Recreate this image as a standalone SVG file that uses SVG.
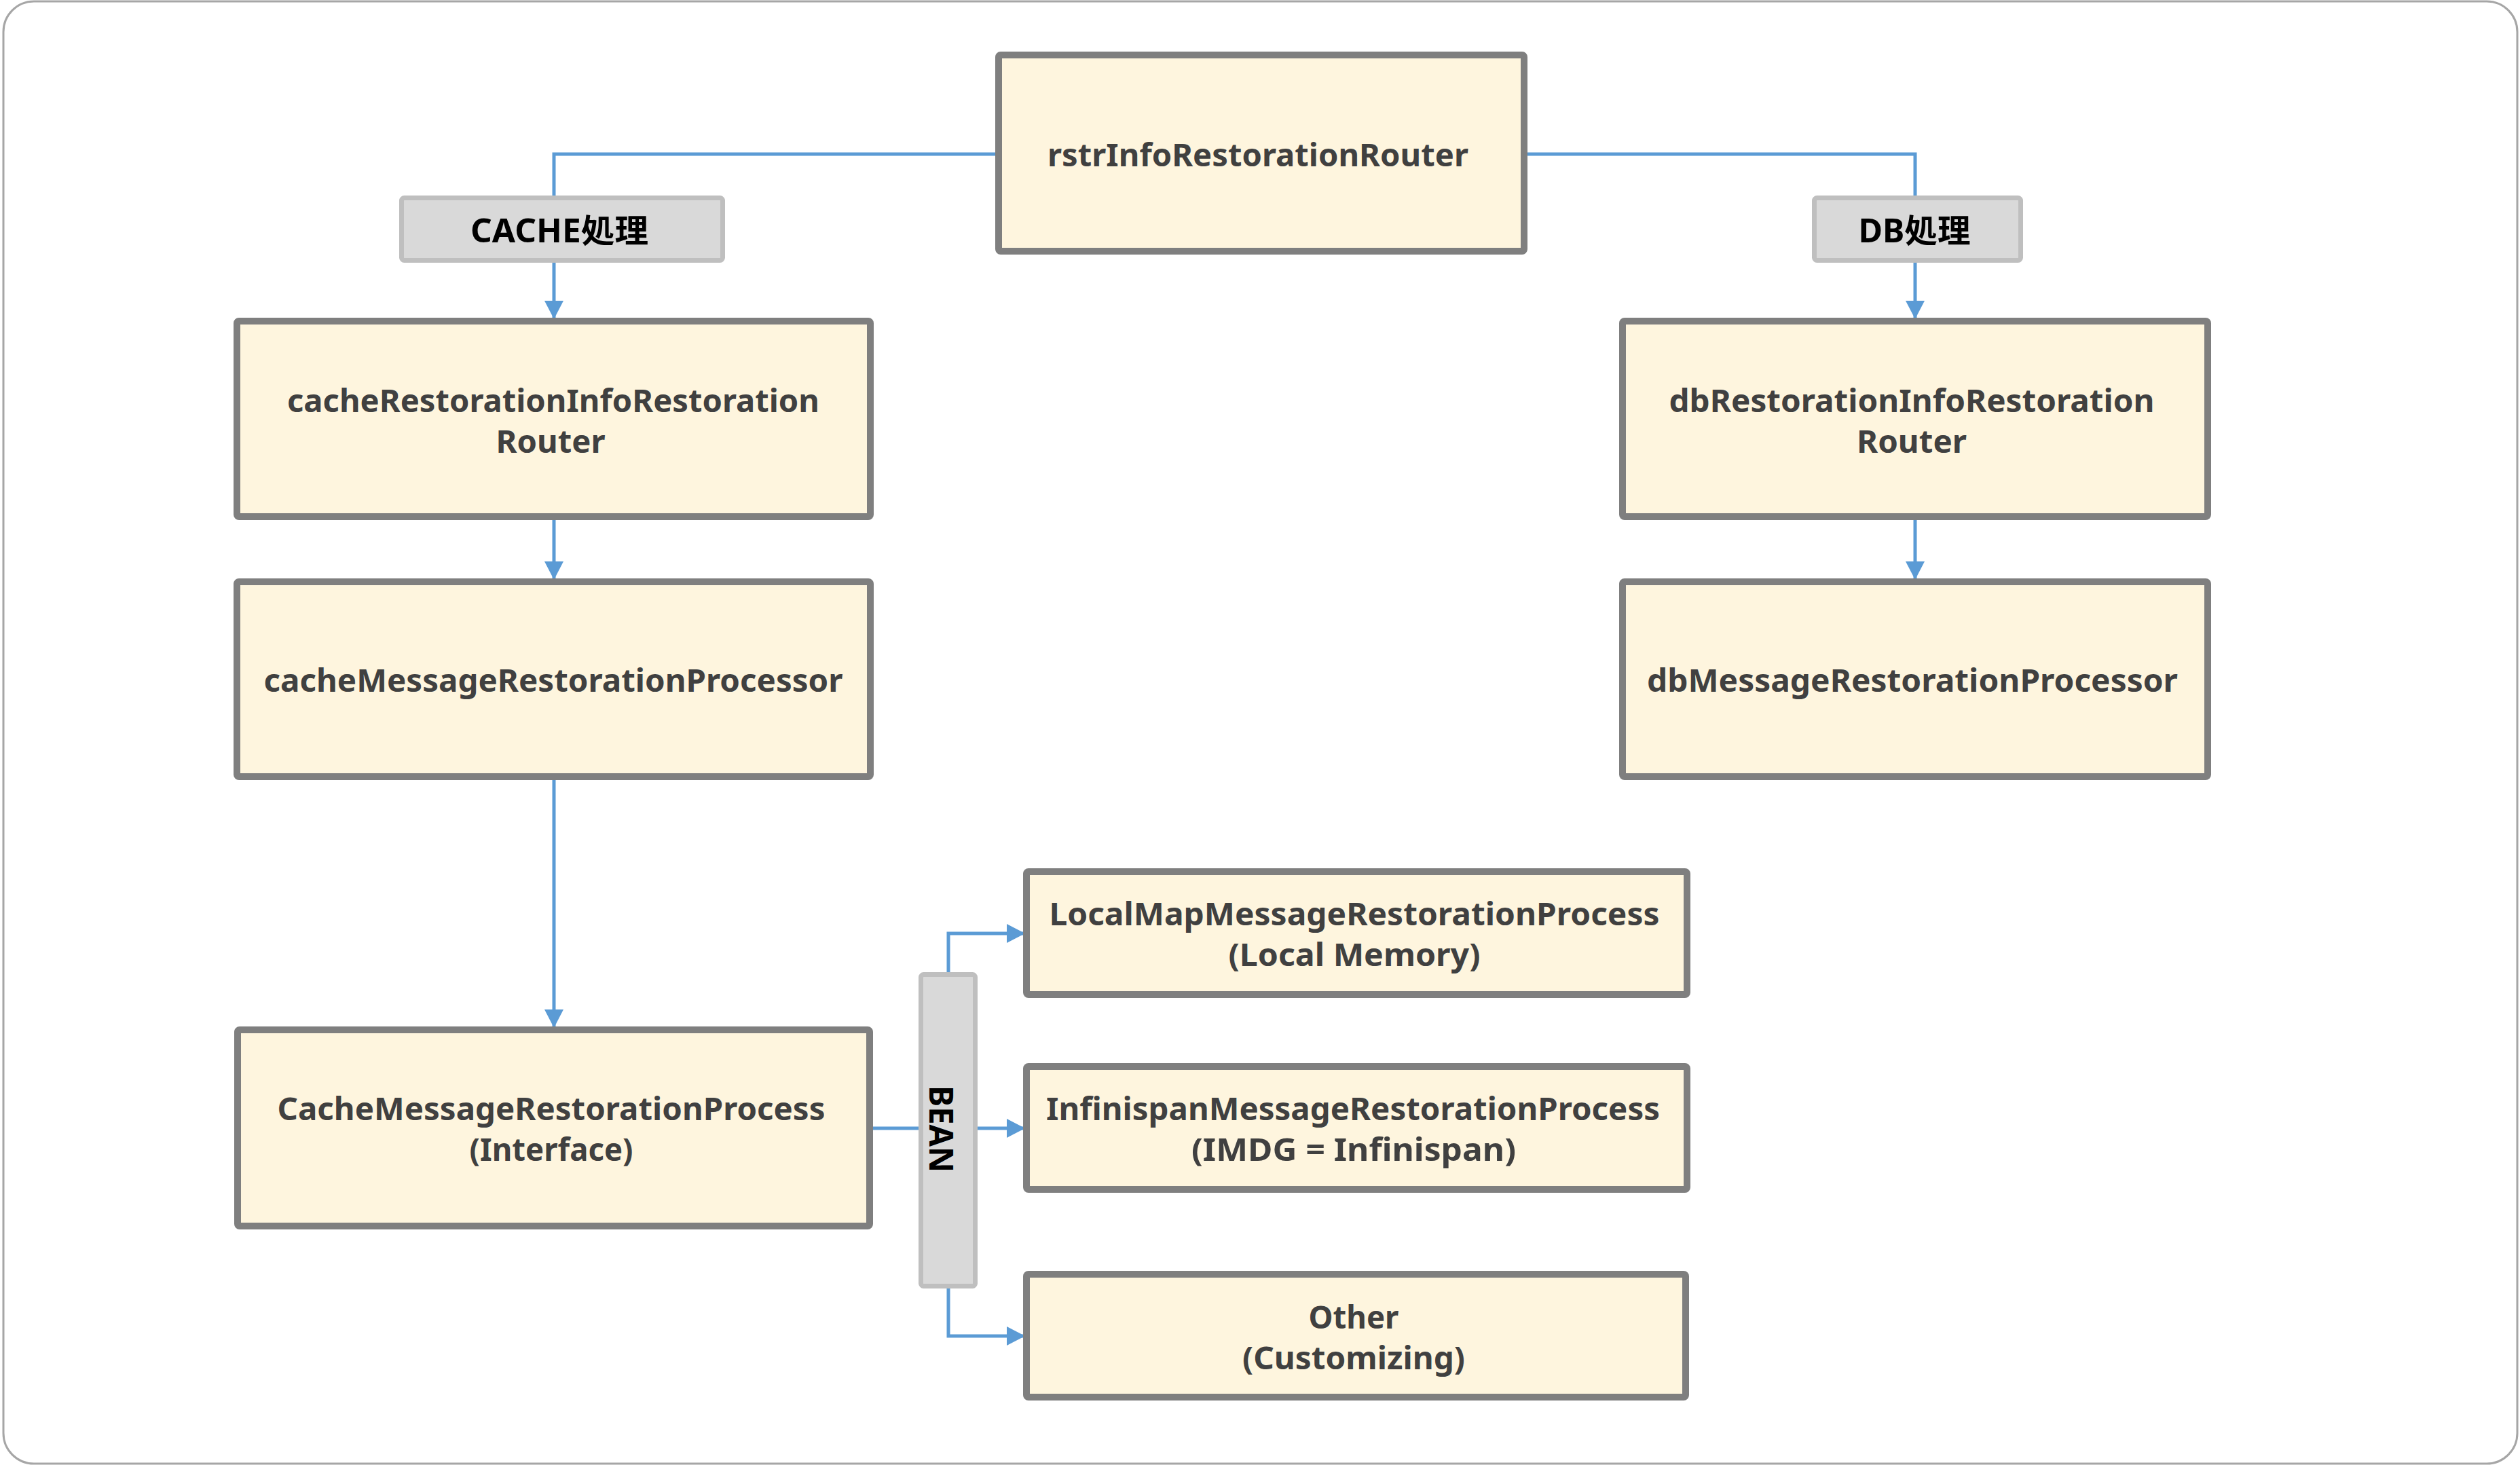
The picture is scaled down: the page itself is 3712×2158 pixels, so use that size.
<svg xmlns="http://www.w3.org/2000/svg" width="3712" height="2158" viewBox="0 0 3712 2158">
<defs>
<style>
.frame{fill:#ffffff;stroke:#a6a6a6;stroke-width:3}
.node{fill:#fef5de;stroke:#7f7f7f;stroke-width:10}
.lbl{fill:#d9d9d9;stroke:#bfbfbf;stroke-width:7}
.t{font-family:"Noto Sans","Liberation Sans",sans-serif;font-weight:bold;font-size:47px;fill:#404040;text-anchor:middle}
.lt{font-family:"Noto Sans","Noto Sans CJK JP",sans-serif;font-weight:bold;font-size:48px;fill:#000000;text-anchor:middle}
.c{fill:none;stroke:#5b9bd5;stroke-width:5}
</style>
<marker id="arr" markerUnits="userSpaceOnUse" markerWidth="28" markerHeight="28" viewBox="0 0 28 28" refX="27" refY="14" orient="auto">
<path d="M0 0 L27 14 L0 28 Z" fill="#5b9bd5"/>
</marker>
</defs>
<rect class="frame" x="5" y="2" width="3703" height="2154" rx="45" ry="45"/>

<g id="connectors">
<path class="c" d="M1466 227 H816 V470" marker-end="url(#arr)"/>
<path class="c" d="M2250 227 H2821 V470" marker-end="url(#arr)"/>
<path class="c" d="M816 766 V854" marker-end="url(#arr)"/>
<path class="c" d="M2821 766 V854" marker-end="url(#arr)"/>
<path class="c" d="M816 1149 V1514" marker-end="url(#arr)"/>
<path class="c" d="M1286 1662 H1356"/>
<path class="c" d="M1397 1432 V1375 H1510" marker-end="url(#arr)"/>
<path class="c" d="M1440 1662 H1510" marker-end="url(#arr)"/>
<path class="c" d="M1397 1898 V1968 H1510" marker-end="url(#arr)"/>
</g>

<g id="rstrInfoRestorationRouter">
<rect class="node" x="1471" y="81" width="774" height="289" rx="3"/>
<text class="t" x="1853" y="245" textLength="620" lengthAdjust="spacingAndGlyphs">rstrInfoRestorationRouter</text>
</g>

<g id="label-cache">
<rect class="lbl" x="591.500" y="291.500" width="473" height="92" rx="4"/>
<text class="lt" x="824" y="357" textLength="262" lengthAdjust="spacingAndGlyphs">CACHE処理</text>
</g>

<g id="label-db">
<rect class="lbl" x="2672.500" y="291.500" width="304" height="92" rx="4"/>
<text class="lt" x="2820" y="357" textLength="165" lengthAdjust="spacingAndGlyphs">DB処理</text>
</g>

<g id="cacheRestorationInfoRestorationRouter">
<rect class="node" x="349" y="473" width="933" height="288" rx="3"/>
<text class="t" x="815" y="607" textLength="784" lengthAdjust="spacingAndGlyphs">cacheRestorationInfoRestoration</text>
<text class="t" x="811" y="667" textLength="161" lengthAdjust="spacingAndGlyphs">Router</text>
</g>

<g id="cacheMessageRestorationProcessor">
<rect class="node" x="349" y="857" width="933" height="287" rx="3"/>
<text class="t" x="815" y="1019" textLength="853" lengthAdjust="spacingAndGlyphs">cacheMessageRestorationProcessor</text>
</g>

<g id="dbRestorationInfoRestorationRouter">
<rect class="node" x="2390" y="473" width="862" height="288" rx="3"/>
<text class="t" x="2816" y="607" textLength="715" lengthAdjust="spacingAndGlyphs">dbRestorationInfoRestoration</text>
<text class="t" x="2816" y="667" textLength="162" lengthAdjust="spacingAndGlyphs">Router</text>
</g>

<g id="dbMessageRestorationProcessor">
<rect class="node" x="2390" y="857" width="862" height="287" rx="3"/>
<text class="t" x="2817" y="1019" textLength="782" lengthAdjust="spacingAndGlyphs">dbMessageRestorationProcessor</text>
</g>

<g id="CacheMessageRestorationProcess">
<rect class="node" x="350" y="1517" width="931" height="289" rx="3"/>
<text class="t" x="812" y="1650" textLength="807" lengthAdjust="spacingAndGlyphs">CacheMessageRestorationProcess</text>
<text class="t" x="812" y="1710" textLength="241" lengthAdjust="spacingAndGlyphs">(Interface)</text>
</g>

<g id="bean">
<rect class="lbl" x="1356.500" y="1435.500" width="80" height="459" rx="4"/>
<text class="lt" transform="translate(1369 1663) rotate(90)" x="0" y="0" font-size="51" textLength="128" lengthAdjust="spacingAndGlyphs">BEAN</text>
</g>

<g id="LocalMapMessageRestorationProcess">
<rect class="node" x="1512" y="1284" width="973" height="181" rx="3"/>
<text class="t" x="1995" y="1363" textLength="899" lengthAdjust="spacingAndGlyphs">LocalMapMessageRestorationProcess</text>
<text class="t" x="1995" y="1423" textLength="371" lengthAdjust="spacingAndGlyphs">(Local Memory)</text>
</g>

<g id="InfinispanMessageRestorationProcess">
<rect class="node" x="1512" y="1571" width="973" height="181" rx="3"/>
<text class="t" x="1993" y="1650" textLength="904" lengthAdjust="spacingAndGlyphs">InfinispanMessageRestorationProcess</text>
<text class="t" x="1994" y="1710" textLength="478" lengthAdjust="spacingAndGlyphs">(IMDG = Infinispan)</text>
</g>

<g id="Other">
<rect class="node" x="1512" y="1877" width="971" height="181" rx="3"/>
<text class="t" x="1994" y="1957" textLength="133" lengthAdjust="spacingAndGlyphs">Other</text>
<text class="t" x="1994" y="2017" textLength="328" lengthAdjust="spacingAndGlyphs">(Customizing)</text>
</g>
</svg>
